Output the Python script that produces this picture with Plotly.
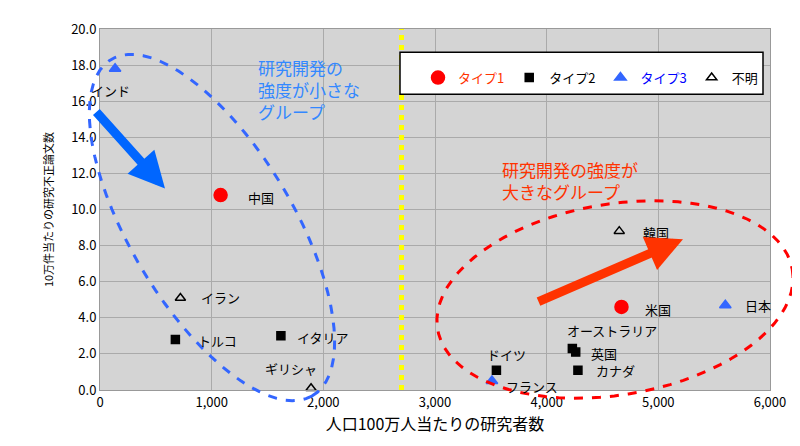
import numpy as np
import plotly.graph_objects as go

countries = ["インド", "中国", "イラン", "トルコ", "イタリア", "ギリシャ", "ドイツ", "フランス",
             "オーストラリア", "英国", "カナダ", "米国", "日本", "韓国"]
researchers = [135, 1080, 720, 675, 1620, 1890, 3550, 3510, 4230, 4260, 4280, 4670, 5600, 4650]
misconduct = [17.8, 10.8, 5.1, 2.8, 3.0, 0.1, 1.1, 0.5, 2.3, 2.1, 1.1, 4.6, 4.7, 8.8]
types = ["タイプ3", "タイプ1", "不明", "タイプ2", "タイプ2", "不明", "タイプ2", "タイプ3",
         "タイプ2", "タイプ2", "タイプ2", "タイプ1", "タイプ3", "不明"]
type_names = ["タイプ1", "タイプ2", "タイプ3", "不明"]
divider_x = 2700

FONT = "Noto Sans CJK JP"
OX, OY = 8, 8  # page offset of the figure in the browser
L, R, T, B = 100, 30, 19, 56  # plot edges in screen pixels
W, H = 800 - OX, 446 - OY
PW, PH = 800 - L - R, 446 - T - B


def px2paper(sx, sy):
    return (sx - L) / PW, (T + PH - sy) / PH


styles = {
    "タイプ1": dict(symbol="circle", color="#ff0000", size=13, text="#ff3300"),
    "タイプ2": dict(symbol="square", color="#000000", size=8, text="#000000"),
    "タイプ3": dict(symbol="triangle-up", color="#3366ff", size=10, text="#0000ff"),
    "不明": dict(symbol="triangle-up-open", color="#000000", size=9, text="#000000"),
}

fig = go.Figure()
for t in type_names:
    st = styles[t]
    xs = [x for x, tt in zip(researchers, types) if tt == t]
    ys = [y for y, tt in zip(misconduct, types) if tt == t]
    fig.add_trace(go.Scatter(
        x=xs, y=ys, mode="markers", cliponaxis=False,
        name=f"<span style='color:{st['text']}'>{t}</span>",
        marker=dict(symbol=st["symbol"], color=st["color"], size=st["size"],
                    line=dict(width=1.5, color=st["color"])),
    ))

# country labels (offset in pixels)
offsets = {
    "インド": (-5, 22), "中国": (40, 2), "イラン": (40, 0), "トルコ": (42, 1),
    "イタリア": (42, 2), "ギリシャ": (-20, -20), "ドイツ": (10, -16), "フランス": (40, 6),
    "オーストラリア": (40, -18), "英国": (28, 1), "カナダ": (38, 0), "米国": (37, 3),
    "日本": (33, 0), "韓国": (37, 1),
}
for c, x, y in zip(countries, researchers, misconduct):
    dx, dy = offsets[c]
    fig.add_annotation(x=x, y=y, text=c, showarrow=False, xshift=dx, yshift=-dy,
                       font=dict(size=13, color="black", family=FONT))

fig.add_shape(type="line", x0=divider_x, x1=divider_x, y0=0, y1=20,
              line=dict(color="#ffff00", width=5, dash="dot"))


def ellipse_path(cx, cy, a, b, ang):
    t = np.linspace(0, 2 * np.pi, 80)
    th = np.radians(ang)
    sx = cx + a * np.cos(t) * np.cos(th) - b * np.sin(t) * np.sin(th)
    sy = cy + a * np.cos(t) * np.sin(th) + b * np.sin(t) * np.cos(th)
    pts = [px2paper(u, v) for u, v in zip(sx, sy)]
    return "M" + "L".join(f"{u:.4f},{v:.4f}" for u, v in pts) + "Z"


fig.add_shape(type="path", xref="paper", yref="paper", path=ellipse_path(212, 223, 200, 82, 60),
              line=dict(color="#3366ff", width=3, dash="dash"))
fig.add_shape(type="path", xref="paper", yref="paper", path=ellipse_path(615, 297, 180, 98, -10),
              line=dict(color="#ff0000", width=3, dash="dash"))

# arrows
bx, by = px2paper(165, 183)
fig.add_annotation(x=bx, y=by, xref="paper", yref="paper",
                   ax=-70, ay=-78, showarrow=True, arrowhead=2, arrowsize=0.8,
                   arrowwidth=9, arrowcolor="#0066ff", text="")
rx, ry = px2paper(683, 235)
fig.add_annotation(x=rx, y=ry, xref="paper", yref="paper",
                   ax=-146, ay=63, showarrow=True, arrowhead=2, arrowsize=0.8,
                   arrowwidth=9, arrowcolor="#ff3300", text="")

tx, ty = px2paper(256, 44)
fig.add_annotation(x=tx, y=ty, xref="paper", yref="paper",
                   xanchor="left", yanchor="top", align="left", showarrow=False,
                   text="研究開発の<br>強度が小さな<br>グループ",
                   font=dict(size=17, color="#3388ff", family=FONT))
tx, ty = px2paper(500, 148)
fig.add_annotation(x=tx, y=ty, xref="paper", yref="paper",
                   xanchor="left", yanchor="top", align="left", showarrow=False,
                   text="研究開発の強度が<br>大きなグループ",
                   font=dict(size=17, color="#ff3300", family=FONT))

# legend box
x0, y0 = px2paper(400, 86)
x1, y1 = px2paper(763, 43)
fig.add_shape(type="rect", xref="paper", yref="paper", x0=x0, x1=x1, y0=y0, y1=y1,
              fillcolor="white", line=dict(color="black", width=1.5))
lx, ly = px2paper(418, 69)

fig.update_layout(
    width=W, height=H,
    margin=dict(l=L - OX, r=R, t=T - OY, b=B),
    paper_bgcolor="white", plot_bgcolor="#d4d4d4",
    font=dict(family=FONT, size=13, color="black"),
    legend=dict(orientation="h", x=lx, y=ly, xanchor="left", yanchor="middle",
                bgcolor="rgba(0,0,0,0)", font=dict(size=13), itemwidth=30,
                tracegroupgap=0),
    xaxis=dict(range=[0, 6000], dtick=1000, tickformat=",d", showgrid=True,
               gridcolor="#aaaaaa", zeroline=False, showline=True, linecolor="#999999",
               mirror=True, ticks="", title=dict(text="人口100万人当たりの研究者数", standoff=8)),
    yaxis=dict(range=[0, 20], dtick=2, tickformat=".1f", showgrid=True,
               gridcolor="#aaaaaa", zeroline=False, showline=True, linecolor="#999999",
               mirror=True, ticks="", title=dict(text="10万件当たりの研究不正論文数", font=dict(size=11))),
)

fig.write_html("out.html")
